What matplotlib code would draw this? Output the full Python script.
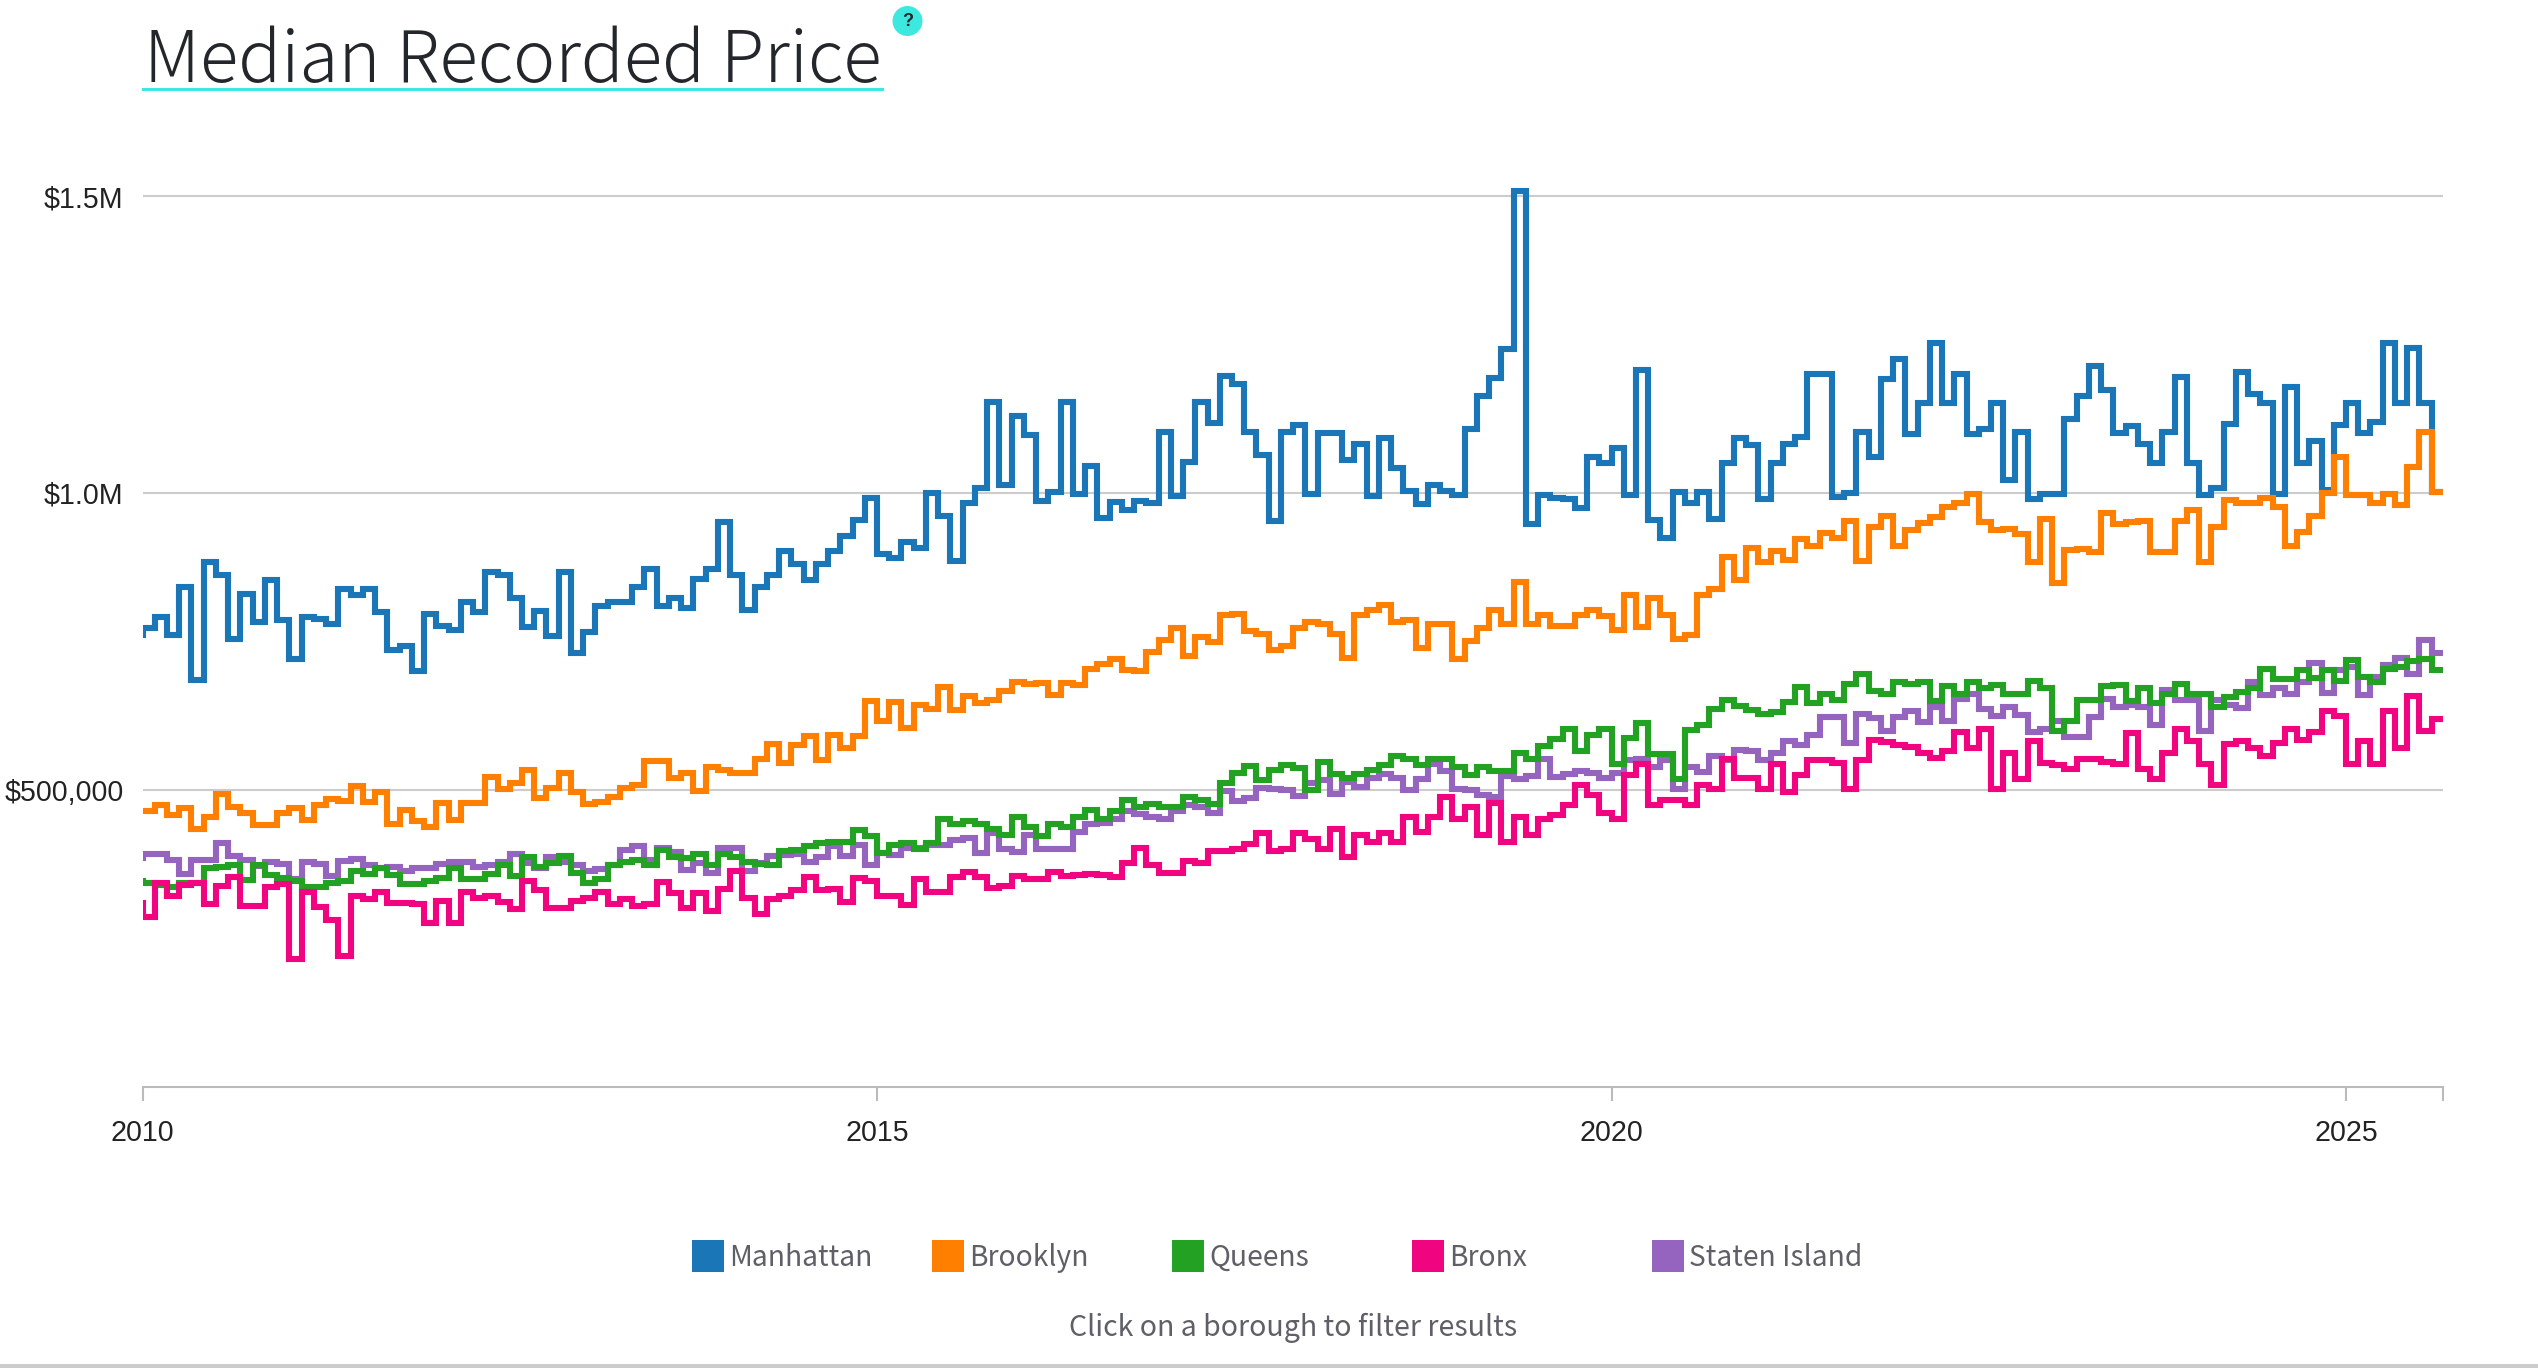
import numpy as np
import matplotlib
matplotlib.use("Agg")
import matplotlib.pyplot as plt
from matplotlib.patches import Rectangle, Ellipse

W, H = 2538, 1368

boroughs = ['Manhattan', 'Brooklyn', 'Queens', 'Bronx', 'Staten Island']
colors = {'Manhattan': '#1a76b6', 'Brooklyn': '#ff7f00', 'Queens': '#22a122',
          'Bronx': '#f0047f', 'Staten Island': '#9564bf'}

# thousands of dollars, monthly; first entry is Dec 2009 (clipped by the axis)
manhattan = [761,
    772,792,761,842,686,883,862,755,830,783, 853,787,720,792,788,779,838,829,838,799,
    736,743,701,797,776,770,816,799,867,862, 824,775,802,759,867,731,766,810,817,817,
    841,872,810,824,806,856,872,952,862,803, 842,862,903,881,853,881,903,927,955,992,
    897,891,918,908,1000,962,885,983,1008,1153, 1013,1129,1097,986,1001,1153,998,1045,958,985,
    971,986,983,1103,995,1052,1153,1118,1197,1183, 1102,1064,953,1102,1114,998,1101,1101,1056,1083,
    995,1093,1042,1003,981,1013,1003,997,1107,1163, 1193,1242,1509,948,997,992,990,975,1061,1051,
    1076,997,1207,955,925,1002,983,1002,957,1051, 1092,1080,990,1051,1083,1094,1201,1201,994,1000,
    1103,1061,1192,1226,1100,1151,1253,1151,1201,1100, 1107,1152,1022,1103,990,999,999,1125,1163,1213,
    1174,1101,1113,1083,1050,1103,1195,1051,996,1009, 1117,1203,1167,1152,998,1178,1050,1088,1005,1115,
    1151,1101,1120,1252,1151,1244,1152,1001]

brooklyn = [464,
    465,474,458,469,435,455,493,472,462,441, 441,462,469,450,475,485,481,507,480,497,
    442,466,447,437,478,450,478,478,522,501, 511,534,487,503,528,497,476,480,489,503,
    508,548,548,521,528,498,538,534,528,528, 552,577,545,575,591,550,593,570,591,650,
    616,648,604,643,636,673,634,659,646,652, 667,682,678,680,660,680,676,703,712,720,
    702,700,733,753,773,726,757,750,794,797, 767,762,735,742,773,782,779,762,723,794,
    803,812,782,786,739,779,779,720,751,773, 803,780,851,780,794,776,776,794,803,793,
    769,828,775,824,794,755,761,828,839,893, 854,907,884,903,888,922,910,932,925,953,
    886,942,961,910,938,949,960,977,983,998, 952,937,940,931,884,956,849,904,906,901,
    967,948,952,953,901,901,953,972,884,942, 988,983,983,992,977,910,935,961,1000,1060,
    997,997,984,998,980,1043,1103,1001]

queens = [347,
    343,340,336,344,343,368,371,373,349,374, 357,352,347,337,337,344,347,364,359,369,
    357,342,342,347,352,368,351,351,359,374, 355,388,371,377,389,361,343,351,373,378,
    382,374,399,387,385,392,373,392,388,379, 375,373,398,399,405,410,412,412,432,422,
    394,407,410,401,410,451,442,448,442,434, 425,454,437,422,443,437,454,467,452,464,
    484,472,477,472,471,488,483,477,511,529, 540,517,534,542,537,500,547,527,521,527,
    533,542,557,552,542,553,553,539,526,538, 532,532,562,552,574,586,602,565,592,602,
    544,587,612,561,560,519,601,610,637,652, 642,635,628,631,648,674,646,662,652,678,
    696,667,661,682,678,682,649,675,661,681, 672,676,661,661,683,672,599,617,651,651,
    675,676,649,672,646,662,678,661,661,640, 657,665,671,703,687,687,702,689,702,683,
    719,690,681,703,707,717,721,702]

bronx = [309,
    287,343,322,340,343,308,338,353,305,304, 336,342,215,329,303,281,221,322,317,328,
    310,310,308,276,313,276,328,319,322,312, 300,347,332,301,301,313,319,328,308,317,
    305,308,345,326,301,327,297,333,363,319, 291,317,322,332,353,332,334,311,352,347,
    321,321,307,350,329,329,353,362,354,335, 338,356,350,351,362,356,357,359,357,353,
    377,403,374,360,360,381,377,397,397,401, 409,428,398,401,427,418,401,434,387,425,
    413,427,413,454,430,454,488,451,472,425, 478,413,455,425,451,458,474,508,491,461,
    451,526,543,475,483,483,475,509,501,553, 521,521,501,543,496,526,551,551,546,501,
    551,585,581,576,572,563,554,565,597,571, 602,502,563,519,583,546,542,535,552,552,
    547,543,596,536,519,562,602,582,543,509, 577,583,570,558,579,602,585,597,633,625,
    544,583,543,633,570,658,599,620]

staten_island = [385,
    393,393,382,359,382,382,410,389,382,372, 378,375,351,378,375,355,381,383,374,368,
    370,363,368,368,375,378,378,370,374,379, 393,377,369,388,379,374,364,367,374,399,
    405,382,402,396,365,377,360,403,403,363, 377,389,391,392,379,387,405,389,407,374,
    394,390,403,403,407,407,415,419,394,427, 401,395,424,400,401,400,430,442,445,452,
    464,460,455,451,464,474,471,461,499,481, 486,503,502,500,490,512,516,494,514,505,
    521,527,520,500,518,544,532,502,500,492, 489,524,518,524,553,522,527,532,528,520,
    528,550,553,539,551,501,539,530,557,550, 568,566,550,562,583,575,592,623,623,579,
    628,622,599,623,633,615,640,616,654,661, 637,624,640,626,598,602,617,590,590,623,
    654,640,643,640,609,668,652,652,599,651, 643,638,682,660,672,662,682,713,663,702,
    707,660,690,710,722,695,753,731]

series = {'Manhattan': manhattan, 'Brooklyn': brooklyn, 'Staten Island': staten_island,
          'Queens': queens, 'Bronx': bronx}

y_ticks = [500000, 1000000, 1500000]
y_labels = ['$500,000', '$1.0M', '$1.5M']
x_ticks = [2010, 2015, 2020, 2025]

def fx(px):
    return px / W

def fy(px):
    return 1 - px / H

fig = plt.figure(figsize=(W / 100, H / 100), dpi=100, facecolor='white')

# axes box in pixels
left, right, top, bottom = 142.5, 2443, 150, 1087
ax = fig.add_axes([fx(left), fy(bottom), fx(right - left), (bottom - top) / H])

for name, vals in series.items():
    v = np.array(vals + [vals[-1]], dtype=float) * 1000
    x = 2010 + (np.arange(len(v)) - 1) / 12
    ax.step(x, v, where='post', color=colors[name], lw=4.4, solid_joinstyle='miter', zorder=3)

year_px = (2346 - 142.5) / 15
ax.set_xlim(2010, 2010 + (right - left) / year_px)
ax.set_ylim(0, 1500000 * (bottom - top) / (bottom - 196))

ax.set_yticks(y_ticks)
ax.set_yticklabels(y_labels)
ax.set_xticks(x_ticks + [ax.get_xlim()[1]])
ax.set_xticklabels([str(t) for t in x_ticks] + [''])
ax.grid(axis='y', color='#cccccc', lw=1.5, zorder=1)
ax.set_axisbelow(True)
for s in ['top', 'right', 'left']:
    ax.spines[s].set_visible(False)
ax.spines['bottom'].set_color('#bbbbbb')
ax.spines['bottom'].set_linewidth(1.5)
ax.tick_params(axis='y', length=0, pad=13.5, labelsize=20.6, labelcolor='#222222')
ax.tick_params(axis='x', length=10, width=1.5, color='#bbbbbb', pad=13, labelsize=20.6, labelcolor='#222222')
for lab in ax.get_xticklabels() + ax.get_yticklabels():
    lab.set_family('Liberation Sans')

# title block
fig.text(fx(144), fy(82), 'Median Recorded Price', family='Noto Sans CJK JP', weight='light', fontsize=51.2,
         color='#23262b', ha='left', va='baseline')
fig.add_artist(Rectangle((fx(142), fy(90.5)), fx(742), 3 / H, transform=fig.transFigure,
                         facecolor='#3de8df', edgecolor='none'))
fig.add_artist(Ellipse((fx(907.5), fy(21)), 30 / W, 30 / H, transform=fig.transFigure,
                       facecolor='#3de8df', edgecolor='none'))
fig.text(fx(907.5), fy(21), '?', family='Liberation Sans', weight='bold', fontsize=13,
         color='#23262b', ha='center', va='center')

# legend
square_px = [692, 932, 1172, 1412, 1652]
for name, sx in zip(boroughs, square_px):
    fig.add_artist(Rectangle((fx(sx), fy(1272)), 32 / W, 32 / H, transform=fig.transFigure,
                             facecolor=colors[name], edgecolor='none'))
    fig.text(fx(sx + 37), fy(1266), name, family='Noto Sans CJK JP', fontsize=20.3, color='#5f5f68',
             ha='left', va='baseline')

fig.text(fx(1293), fy(1336), 'Click on a borough to filter results', family='Noto Sans CJK JP', fontsize=20.5,
         color='#5f5f68', ha='center', va='baseline')
fig.add_artist(Rectangle((0, 0), 1, 4 / H, transform=fig.transFigure, facecolor='#cccccc', edgecolor='none'))

fig.savefig('out.png', dpi=100)
